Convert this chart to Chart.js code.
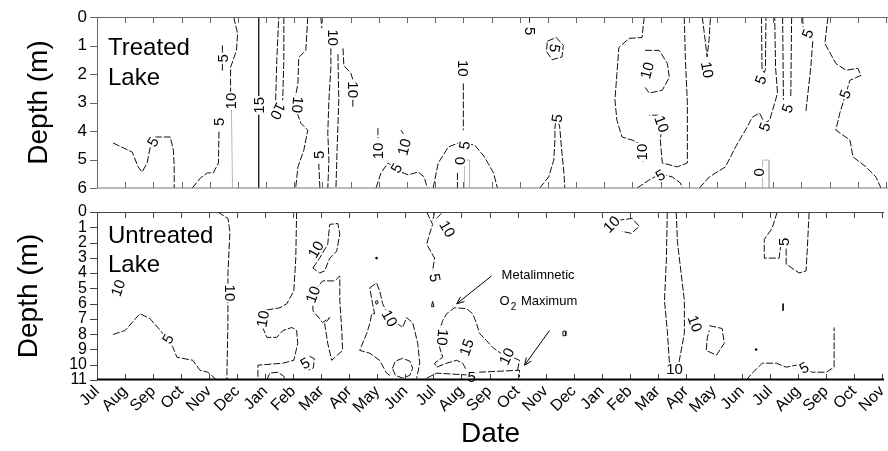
<!DOCTYPE html>
<html>
<head>
<meta charset="utf-8">
<title>Dissolved oxygen isopleths</title>
<script src="https://cdn.jsdelivr.net/npm/chart.js@4.4.1/dist/chart.umd.min.js"></script>
<style>
  html, body { margin: 0; padding: 0; background: #fff; }
  #wrap { position: relative; width: 888px; height: 451px; overflow: hidden; }
  #treated { position: absolute; left: 0; top: 0; }
  #untreated { position: absolute; left: 0; top: 196px; }
</style>
</head>
<body>
<div id="wrap">
  <canvas id="treated" width="888" height="196"></canvas>
  <canvas id="untreated" width="888" height="255"></canvas>
</div>
<script>
// Month axis: x = months since the first July (0 = Jul, 28 = Nov two years later)
const monthLabels = ['Jul','Aug','Sep','Oct','Nov','Dec','Jan','Feb','Mar','Apr','May','Jun',
                     'Jul','Aug','Sep','Oct','Nov','Dec','Jan','Feb','Mar','Apr','May','Jun',
                     'Jul','Aug','Sep','Oct','Nov'];
const treatedDepthTicks = [0, 1, 2, 3, 4, 5, 6];
const untreatedDepthTicks = [0, 1, 2, 3, 4, 5, 6, 7, 8, 9, 10, 11];

// ---- Treated lake: dissolved O2 isopleths (mg/L), paths as [month, depth, month, depth, ...]
const treatedLevel0 = [
  [12.79,5.47, 12.79,6]
];
const treatedLevel5 = [
  [0.57,4.42, 1.25,4.74, 1.46,5.26, 1.60,5.44, 1.78,5.12, 1.89,4.56, 2.07,4.21, 2.60,4.21, 2.71,4.67, 2.74,5.26, 2.74,6],
  [3.38,6, 3.67,5.65, 3.92,5.47, 4.13,5.47, 4.31,5.12, 4.33,3.95],
  [4.45,1.0, 4.45,1.95],
  [7.91,6, 7.87,5.15],
  [7.94,0, 7.98,0.4],
  [9.90,6, 10.08,5.47, 10.33,5.12, 10.62,5.37, 11.04,5.54, 11.40,5.44, 11.61,5.61, 11.72,6],
  [11.93,6, 12.11,5.12, 12.47,4.56, 12.83,4.42, 13.40,4.49, 13.75,4.91, 14.07,5.47, 14.21,6],
  [15.35,0, 15.35,0.2],
  [15.98,0.85, 16.3,0.72, 16.55,1.0, 16.5,1.4, 16.15,1.5, 15.95,1.2, 15.98,0.85],
  [15.71,6, 16.03,5.61, 16.21,5.02, 16.25,4.32, 16.25,3.86, 16.32,3.5, 16.42,3.86, 16.49,4.67, 16.57,5.47, 16.60,6],
  [19.17,6, 19.59,5.72, 19.99,5.51, 20.41,5.61, 20.70,5.82, 20.77,6],
  [21.38,6, 21.73,5.61, 22.30,5.26, 22.66,4.56, 22.80,4.32, 23.01,3.97, 23.26,3.51, 23.51,3.37, 23.69,3.72, 23.87,3.62, 24.05,3.02, 24.15,2.67, 24.08,1.77, 24.05,0],
  [23.58,0, 23.6,1.85, 23.68,1.95, 23.72,1.85, 23.74,0],
  [24.33,0, 24.36,2.9],
  [24.65,0, 24.62,2.8],
  [25.40,0.85, 25.33,1.77, 25.15,3.37],
  [25.04,0, 25.06,0.35],
  [25.94,0, 25.83,0.93, 26.22,1.63, 26.58,1.87, 27.0,1.80, 27.11,2.05, 26.72,2.22, 26.58,2.67, 26.36,3.37, 26.22,3.97, 26.72,4.32, 26.83,4.91, 27.29,5.26, 27.64,5.61, 27.82,6]
];
const treatedLevel10 = [
  [4.85,0, 4.99,0.58, 4.95,1.17, 4.74,1.77, 4.74,2.67, 4.77,3.3],
  [6.34,2.92, 6.38,1.52, 6.45,0],
  [6.63,0, 6.63,1.52, 6.59,2.92],
  [7.48,0, 7.41,1.17, 7.16,1.42, 7.13,2.33, 7.05,2.75, 7.13,3.44, 7.23,3.72, 7.48,3.97, 7.34,4.67, 7.13,5.26, 7.05,6],
  [8.30,1.1, 8.30,1.77, 8.23,2.92, 8.19,4.07, 8.23,5.02, 8.19,6],
  [8.55,1.3, 8.58,2.92, 8.52,4.67, 8.48,6],
  [8.73,1.1, 8.76,1.70, 9.01,1.98, 9.08,2.2],
  [9.08,2.9, 9.08,3.15],
  [9.97,3.9, 9.97,4.25],
  [10.79,3.97, 10.87,4.1],
  [13.0,2.33, 13.0,3.97],
  [19.42,0, 19.34,0.72, 18.88,0.75, 18.52,1.07, 18.45,1.98, 18.38,2.92, 18.45,3.62, 18.63,4.21, 18.99,4.32, 19.34,4.49, 19.38,5.09],
  [19.45,1.17, 19.95,1.17, 20.24,1.63, 20.31,2.12, 20.06,2.57, 19.60,2.67, 19.45,2.47],
  [20.84,0, 20.88,1.5, 20.95,3, 20.95,5.12, 20.77,5.19, 20.59,5.26, 20.06,5.12, 19.99,4.32, 20.02,4.05],
  [19.95,3.45, 19.60,3.44],
  [21.48,0, 21.58,0.8, 21.65,1.4, 21.72,0.8, 21.77,0]
];
const treatedLevel15 = [
  [5.74,0, 5.74,6]
];
// light grey sampling traces
const treatedGrey = [
  [4.77,3.3, 4.81,6],
  [13.04,6, 13.04,5.02, 13.22,5.02, 13.22,6],
  [23.62,6, 23.62,5.02, 23.85,5.02, 23.85,6]
];
// contour labels: [month, depth, rotation in degrees]
const treatedLabels0 = [[12.86,5.05,-90], [23.5,5.45,-90]];
const treatedLabels5 = [[1.98,4.38,-60], [4.32,3.68,-90], [4.45,1.45,-90], [7.87,4.84,-90], [10.62,5.3,-60],
  [13.04,4.5,-80], [15.38,0.5,90], [16.25,1.1,100], [16.32,3.55,-80], [19.99,5.55,-30], [23.69,3.85,-70],
  [23.55,2.2,-70], [24.5,3.2,-70], [25.22,0.58,-70], [26.55,2.7,-70]];
const treatedLabels10 = [[4.75,2.95,-90], [6.42,3.3,115], [7.12,3.08,95], [8.37,0.72,90], [9.1,2.55,90],
  [9.97,4.7,-90], [10.9,4.56,-75], [13.0,1.8,90], [19.34,4.74,-90], [19.52,1.87,-75], [20.04,3.75,70], [21.66,1.85,80]];
const treatedLabels15 = [[5.74,3.1,-90]];

// ---- Untreated lake
const untreatedLevel5 = [
  [0.57,8.02, 1.0,7.76, 1.53,6.66, 1.89,6.98, 2.35,7.95, 2.71,8.86, 2.85,9.51, 3.42,9.71, 3.67,10.36, 3.95,10.49, 4.27,11],
  [6.06,11, 6.16,10.55, 6.45,10.49, 6.66,10.75, 6.70,11],
  [7.58,9.45, 7.75,9.6, 7.72,10.2, 7.55,10.35],
  [11.76,0, 11.97,0.81, 11.86,1.46, 11.76,2.11, 12.04,3.02, 11.97,3.86],
  [12.04,0, 11.97,0.6],
  [11.76,10.88, 12.11,10.55, 13.29,10.68, 13.64,10.49, 15.07,10.36, 15.07,10.81],
  [24.26,0, 24.08,1.07, 23.80,1.79, 23.80,3.02, 24.33,3.02, 24.38,2.3],
  [24.58,2.4, 24.58,3.41, 25.04,3.99, 25.29,3.86, 25.33,2.56, 25.40,0],
  [23.16,11, 23.37,10.55, 23.73,9.90, 24.23,9.90, 24.58,10.16, 24.94,10.03, 25.22,10.16, 25.51,10.49, 26.01,10.49, 26.29,10.16, 26.29,7.56]
];
const untreatedLevel10 = [
  [4.31,0, 4.67,0.42, 4.74,1.27, 4.67,4.06, 4.67,7.31, 4.63,11],
  [7.12,0, 7.09,3.02, 7.02,5.16, 6.77,6.01, 6.52,6.27, 5.91,6.46, 5.91,7.56, 6.06,8.21, 6.41,8.21, 6.63,7.76, 6.95,7.56, 7.12,7.76, 7.16,8.6, 7.02,9.71, 6.63,9.90, 5.74,10.03, 5.74,11],
  [7.70,3.67, 7.94,3.02, 8.23,2.11, 8.30,0.81, 8.59,0.75, 8.66,1.46, 8.55,2.56, 8.30,3.02, 8.12,3.86, 7.94,3.99, 7.70,3.67],
  [7.70,5.81, 7.84,4.97, 8.05,4.51, 8.48,4.51, 8.66,4.19, 8.66,5.81, 8.73,7.76, 8.76,9.06, 8.37,9.71, 8.23,8.60, 8.12,7.31, 8.30,6.92, 8.05,7.24, 7.70,6.46, 7.70,5.81],
  [9.73,4.97, 9.97,4.64, 10.08,5.16, 10.19,6.01, 10.44,6.92, 10.72,7.31, 10.90,7.56, 11.04,6.92, 11.26,7.24, 11.44,8.60, 11.51,9.90, 11.40,10.9],
  [10.45,10.7, 10.33,10.55, 10.08,9.71, 9.73,9.25, 9.37,9.06, 9.62,7.95, 9.73,7.31, 9.80,6.66, 9.90,6.66, 9.83,6.01, 9.73,4.97],
  [10.54,10.23, 10.64,9.77, 10.90,9.58, 11.16,9.77, 11.26,10.23, 11.16,10.69, 10.90,10.88, 10.64,10.69, 10.54,10.23],
  [12.11,0.42, 12.33,0],
  [15.0,10.36, 15.07,9.71, 14.82,9.51, 14.61,9.51, 14.25,9.06, 14.11,8.86, 13.89,8.41, 13.64,7.95, 13.54,7.31, 13.40,6.66, 13.18,6.33, 12.75,6.27, 12.47,6.66, 12.33,7.11, 12.22,7.76, 12.22,8.86, 12.33,9.51, 12.04,9.90, 12.11,10.16, 12.47,9.90, 12.83,9.71, 13.04,9.90, 13.18,10.36],
  [18.56,0.55, 19.09,0.42, 19.34,0.94, 19.06,1.40, 18.74,1.27],
  [20.34,0, 20.31,3.02, 20.24,5.81, 20.34,7.76, 20.41,9.71, 20.43,9.95],
  [20.66,0, 20.70,1.92, 20.95,5.81, 20.95,7.95, 20.77,9.71, 20.75,9.95],
  [21.84,7.44, 22.30,7.63, 22.37,8.60, 22.09,9.38, 21.73,9.06, 21.77,8.21, 21.84,7.75]
];
// tiny closed cells and ticks
const untreatedSpecks = [
  [9.93,5.85, 10.0,5.8, 10.03,5.95, 9.96,6.05, 9.93,5.85],
  [11.93,6.2, 11.97,5.85, 12.02,6.2, 11.93,6.2],
  [16.62,7.8, 16.72,7.8, 16.72,8.1, 16.62,8.1, 16.62,7.8],
  [24.47,6.0, 24.47,6.46]
];
const untreatedDots = [[9.97,3.02], [23.51,9.0]];
const untreatedLabels5 = [[2.53,8.3,-60], [7.42,9.9,-30], [12.06,4.3,80], [13.36,10.8,0], [24.5,1.95,-90], [25.22,10.2,-30]];
const untreatedLabels10 = [[0.75,4.97,-70], [4.74,5.3,90], [5.91,7.0,-80], [7.8,2.45,-60], [7.70,5.4,-70],
  [10.44,6.95,60], [12.5,1.1,60], [12.33,8.2,95], [14.61,9.45,-65], [18.35,0.8,-45], [20.6,10.3,0], [21.33,7.3,70]];
const untreatedLabels15 = [[13.18,8.86,-70]];

// metalimnetic maximum call-out: arrows [fromMonth, fromDepth, toMonth, toDepth]
const calloutArrows = [[14.07,4.19, 12.83,6.01], [16.14,7.76, 15.25,10.03]];
const calloutText = [['Metalimnetic', 14.43, 4.13], ['O|2| Maximum', 14.36, 5.88]];

const FONT = "'Liberation Sans', Arial, Helvetica, sans-serif";
Chart.defaults.font.family = FONT;
Chart.defaults.color = '#000';

function toPoints(flat) {
  const pts = [];
  for (let i = 0; i < flat.length; i += 2) pts.push({ x: flat[i], y: flat[i + 1] });
  return pts;
}

function lineSets(paths, style) {
  return paths.map(p => Object.assign({
    data: toPoints(p), showLine: true, pointRadius: 0, tension: 0,
    borderColor: '#111', borderWidth: 1, borderDash: [7, 2]
  }, style || {}));
}

// draws the contour values, rotated along the isopleths, on a white patch
const contourLabelPlugin = {
  id: 'contourLabels',
  afterDatasetsDraw(chart, args, opts) {
    const { ctx, scales: { x, y } } = chart;
    ctx.save();
    ctx.font = '15px ' + FONT;
    ctx.textAlign = 'center';
    ctx.textBaseline = 'middle';
    (opts.groups || []).forEach(([level, list]) => {
      const txt = String(level);
      list.forEach(([mx, d, rot]) => {
        const px = x.getPixelForValue(mx), py = y.getPixelForValue(d);
        ctx.save();
        ctx.translate(px, py);
        ctx.rotate(rot * Math.PI / 180);
        const w = ctx.measureText(txt).width;
        ctx.fillStyle = '#fff';
        ctx.fillRect(-w / 2 - 1, -6.5, w + 2, 13);
        ctx.fillStyle = '#000';
        ctx.fillText(txt, 0, 1);
        ctx.restore();
      });
    });
    ctx.restore();
  }
};

// panel frame with inward month ticks and outward depth ticks
const framePlugin = {
  id: 'frame',
  afterDraw(chart, args, opts) {
    const { ctx, chartArea: a, scales: { x, y } } = chart;
    ctx.save();
    ctx.lineWidth = 1;
    ctx.strokeStyle = opts.color;
    ctx.beginPath();
    ctx.moveTo(a.left + 0.5, a.bottom); ctx.lineTo(a.left + 0.5, a.top + 0.5); ctx.lineTo(a.right, a.top + 0.5);
    ctx.stroke();
    monthLabels.forEach((m, i) => {
      const px = Math.round(x.getPixelForValue(i)) + 0.5;
      ctx.beginPath();
      ctx.moveTo(px, a.top); ctx.lineTo(px, a.top + 6);
      ctx.moveTo(px, a.bottom); ctx.lineTo(px, a.bottom - 6);
      ctx.stroke();
    });
    opts.depthTicks.forEach(d => {
      const py = Math.round(y.getPixelForValue(d)) + 0.5;
      ctx.beginPath();
      ctx.moveTo(a.left - 7, py); ctx.lineTo(a.left, py);
      ctx.stroke();
    });
    ctx.strokeStyle = opts.baseColor;
    ctx.lineWidth = opts.baseWidth;
    ctx.beginPath();
    ctx.moveTo(a.left, a.bottom - opts.baseWidth / 2 + 0.5); ctx.lineTo(a.right, a.bottom - opts.baseWidth / 2 + 0.5);
    ctx.stroke();
    // panel name
    ctx.fillStyle = '#000';
    ctx.font = '24px ' + FONT;
    ctx.textAlign = 'left';
    ctx.textBaseline = 'alphabetic';
    opts.title.forEach((t, i) => ctx.fillText(t, a.left + 11, a.top + opts.titleTop + i * opts.titleStep));
    ctx.restore();
  }
};

// call-out arrows and text
const calloutPlugin = {
  id: 'callout',
  afterDatasetsDraw(chart, args, opts) {
    if (!opts.show) return;
    const { ctx, scales: { x, y } } = chart;
    ctx.save();
    ctx.strokeStyle = '#000'; ctx.fillStyle = '#000'; ctx.lineWidth = 1;
    calloutArrows.forEach(([m0, d0, m1, d1]) => {
      const x0 = x.getPixelForValue(m0), y0 = y.getPixelForValue(d0);
      const x1 = x.getPixelForValue(m1), y1 = y.getPixelForValue(d1);
      ctx.beginPath(); ctx.moveTo(x0, y0); ctx.lineTo(x1, y1); ctx.stroke();
      const ang = Math.atan2(y1 - y0, x1 - x0), L = 8, W = 0.4;
      ctx.beginPath();
      ctx.moveTo(x1, y1);
      ctx.lineTo(x1 - L * Math.cos(ang - W), y1 - L * Math.sin(ang - W));
      ctx.moveTo(x1, y1);
      ctx.lineTo(x1 - L * Math.cos(ang + W), y1 - L * Math.sin(ang + W));
      ctx.stroke();
    });
    ctx.textBaseline = 'middle';
    ctx.textAlign = 'left';
    calloutText.forEach(([txt, m, d]) => {
      let px = x.getPixelForValue(m);
      const py = y.getPixelForValue(d);
      txt.split('|').forEach((part, i) => {
        if (i === 1) {
          ctx.font = '10px ' + FONT;
          ctx.fillText(part, px + 1, py + 5);
          px += ctx.measureText(part).width + 2;
        } else {
          ctx.font = '13px ' + FONT;
          ctx.fillText(part, px, py);
          px += ctx.measureText(part).width;
        }
      });
    });
    ctx.restore();
  }
};

function depthAxis(maxDepth, fontSize, labelPad, titlePad) {
  return {
    type: 'linear', reverse: true, min: 0, max: maxDepth,
    grid: { display: false, drawTicks: false },
    border: { display: false },
    afterBuildTicks(s) {
      s.ticks = (maxDepth === 6 ? treatedDepthTicks : untreatedDepthTicks).map(v => ({ value: v }));
    },
    ticks: { autoSkip: false, padding: labelPad, color: '#000', font: { size: fontSize } },
    title: { display: true, text: 'Depth (m)', color: '#000', font: { size: 28 }, padding: { top: titlePad, bottom: 0 } },
    afterFit(s) { s.width = 97; s.paddingTop = 0; s.paddingBottom = 0; }
  };
}

// ---- Treated lake panel
new Chart(document.getElementById('treated'), {
  type: 'scatter',
  data: {
    datasets: [
      ...lineSets(treatedGrey, { borderColor: '#b8b8b8', borderDash: [] }),
      ...lineSets(treatedLevel0),
      ...lineSets(treatedLevel5),
      ...lineSets(treatedLevel10),
      ...lineSets(treatedLevel15, { borderDash: [], borderWidth: 1.3 })
    ]
  },
  options: {
    responsive: false, animation: false, devicePixelRatio: 1,
    layout: { padding: { top: 17, bottom: 8, left: 0, right: 0 } },
    plugins: {
      legend: { display: false }, tooltip: { enabled: false },
      contourLabels: { groups: [[0, treatedLabels0], [5, treatedLabels5], [10, treatedLabels10], [15, treatedLabels15]] },
      frame: { color: '#666', depthTicks: treatedDepthTicks, baseColor: '#777', baseWidth: 1,
               title: ['Treated', 'Lake'], titleTop: 38, titleStep: 30 },
      callout: { show: false }
    },
    scales: {
      x: { type: 'linear', min: 0, max: 28.07, display: false },
      y: depthAxis(6, 17, 10, 22)
    }
  },
  plugins: [contourLabelPlugin, calloutPlugin, framePlugin]
});

// ---- Untreated lake panel
new Chart(document.getElementById('untreated'), {
  type: 'scatter',
  data: {
    datasets: [
      ...lineSets(untreatedLevel5),
      ...lineSets(untreatedLevel10),
      ...lineSets(untreatedSpecks, { borderDash: [] }),
      { data: untreatedDots.map(([x, y]) => ({ x, y })), showLine: false, pointRadius: 1.3,
        pointBackgroundColor: '#000', pointBorderWidth: 0 }
    ]
  },
  options: {
    responsive: false, animation: false, devicePixelRatio: 1,
    layout: { padding: { top: 16, bottom: 0, left: 0, right: 0 } },
    plugins: {
      legend: { display: false }, tooltip: { enabled: false },
      contourLabels: { groups: [[5, untreatedLabels5], [10, untreatedLabels10], [15, untreatedLabels15]] },
      frame: { color: '#444', depthTicks: untreatedDepthTicks, baseColor: '#000', baseWidth: 2,
               title: ['Untreated', 'Lake'], titleTop: 31, titleStep: 29 },
      callout: { show: true }
    },
    scales: {
      x: {
        type: 'linear', min: 0, max: 28.07,
        grid: { display: false, drawTicks: false },
        border: { display: false },
        afterBuildTicks(s) { s.ticks = monthLabels.map((_, i) => ({ value: i })); },
        ticks: {
          autoSkip: false, maxRotation: 45, minRotation: 45, padding: 2,
          color: '#000', font: { size: 16 },
          callback: v => monthLabels[v]
        },
        title: { display: true, text: 'Date', color: '#000', font: { size: 28 }, padding: { top: 0, bottom: 0 } },
        afterFit(s) { s.height = 71; s.paddingLeft = 0; s.paddingRight = 0; }
      },
      y: depthAxis(11, 16, 10, 12)
    }
  },
  plugins: [contourLabelPlugin, calloutPlugin, framePlugin]
});
</script>
</body>
</html>
